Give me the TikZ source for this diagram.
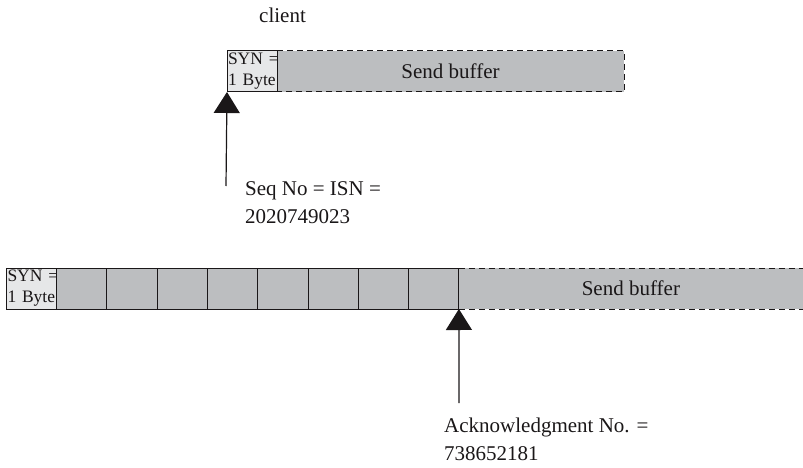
\documentclass[tikz,border=0pt]{standalone}
\usepackage{fontspec}
\setmainfont{Liberation Serif}
\usetikzlibrary{positioning,arrows.meta,backgrounds}
\definecolor{ink}    {HTML}{1A1718}
\definecolor{bufgray}{HTML}{BCBEC0}
\definecolor{syngray}{HTML}{E6E7E8}
\tikzset{
  >={Triangle[width=26pt,length=21pt]},
  every node/.style={font=\fontsize{21}{28}\selectfont, text=ink},
  % --- boxes
  syn/.style   = {draw=ink, fill=syngray, line width=1pt, inner sep=1pt, outer sep=0pt,
                  text width=48pt, minimum height=41pt, align=left,
                  font=\fontsize{17.5}{21}\selectfont},
  cell/.style  = {draw=ink, fill=bufgray, line width=1pt, inner sep=0pt, outer sep=0pt,
                  minimum width=50.3pt, minimum height=41pt},
  buf/.style   = {fill=bufgray, inner sep=0pt, outer sep=0pt, minimum height=41pt},
  dashedge/.style = {draw=ink, line width=1pt, dash pattern=on 6pt off 4pt},
  % --- pointers and labels
  ptr/.style   = {->, line width=1.2pt, draw=ink},
  lbl/.style   = {align=left, anchor=base west, inner sep=0pt},
}
\begin{document}
\begin{tikzpicture}[x=1pt, y=-1pt]
  \useasboundingbox (0,0) rectangle (803,468);
  \node[lbl] (who) at (259,23) {client};
  % client send buffer
  \node[syn, anchor=north west] (syn1) at (227,51) {SYN~=\\1 Byte};
  \begin{scope}[on background layer]
    \node[buf, minimum width=347pt, right=0pt of syn1] (buf1) {Send buffer};
  \end{scope}
  \draw[dashedge] (buf1.north west) -- (buf1.north east) -- (buf1.south east) -- (buf1.south west);
  \coordinate (a1) at (226,186);
  \draw[ptr] (a1) -- (syn1.south west);
  \node[lbl] (seq) at (245,223) {Seq No = ISN =\\2020749023};
  % server side, 8 bytes received
  \node[syn, anchor=north west] (syn2) at (6.5,268) {SYN~=\\1 Byte};
  \node[cell, right=0pt of syn2] (c1) {};
  \foreach \i [remember=\i as \p (initially 1)] in {2,...,8}
    \node[cell, right=0pt of c\p] (c\i) {};
  \begin{scope}[on background layer]
    \node[buf, minimum width=344pt, right=0pt of c8] (buf2) {Send buffer};
  \end{scope}
  \draw[dashedge] (buf2.north west) -- (buf2.north east);
  \draw[dashedge] (buf2.south west) -- (buf2.south east);
  \coordinate (a2) at (459,403);
  \draw[ptr] (a2) -- (c8.south east);
  \node[lbl] (ack) at (444,460) {Acknowledgment No. =\\738652181};
\end{tikzpicture}
\end{document}
